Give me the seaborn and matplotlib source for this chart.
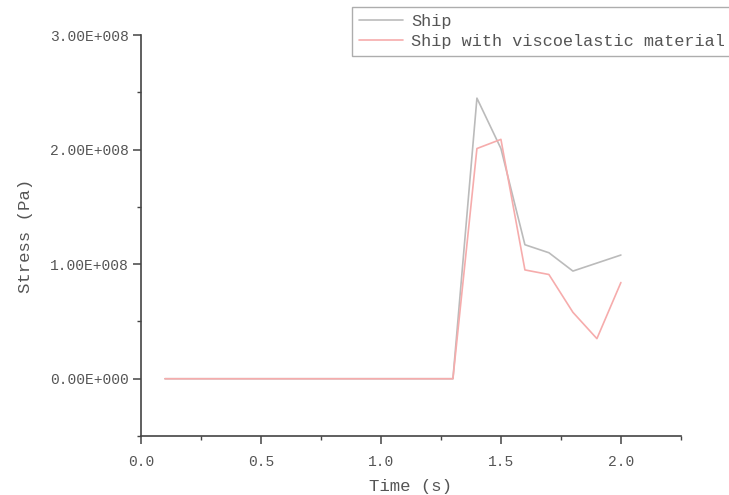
import pandas as pd
import matplotlib
matplotlib.use("Agg")
import matplotlib.pyplot as plt
import seaborn as sns
from matplotlib.ticker import MultipleLocator

# data
time_s = [0.1, 0.2, 0.3, 0.4, 0.5, 0.6, 0.7, 0.8, 0.9, 1.0,
          1.1, 1.2, 1.3, 1.4, 1.5, 1.6, 1.7, 1.8, 1.9, 2.0]
ship = [0, 0, 0, 0, 0, 0, 0, 0, 0, 0,
        0, 0, 0, 2.45e8, 2.01e8, 1.17e8, 1.10e8, 0.94e8, 1.01e8, 1.08e8]
ship_visco = [0, 0, 0, 0, 0, 0, 0, 0, 0, 0,
              0, 0, 0, 2.01e8, 2.09e8, 0.95e8, 0.91e8, 0.58e8, 0.35e8, 0.84e8]
series_names = ["Ship", "Ship with viscoelastic material"]

x_ticks = [0.0, 0.5, 1.0, 1.5, 2.0]
x_labels = ["0.0", "0.5", "1.0", "1.5", "2.0"]
y_ticks = [0, 1e8, 2e8, 3e8]
y_labels = ["0.00E+000", "1.00E+008", "2.00E+008", "3.00E+008"]

df = pd.DataFrame({
    "Time": time_s * 2,
    "Stress": ship + ship_visco,
    "Case": [series_names[0]] * len(time_s) + [series_names[1]] * len(time_s),
})

sns.set_style("ticks")
plt.rcParams["font.family"] = ["Liberation Mono", "DejaVu Sans"]

fig = plt.figure(figsize=(7.29, 4.95), dpi=100)
ax = fig.add_axes([0.1934, 0.1192, 0.934 - 0.1934, 0.929 - 0.1192])

sns.lineplot(data=df, x="Time", y="Stress", hue="Case",
             palette=["#bbbbbb", "#f6acac"], linewidth=1.2, ax=ax, legend=True)

ax.set_xlim(0, 2.25)
ax.set_ylim(-0.5e8, 3e8)
ax.set_xticks(x_ticks)
ax.set_xticklabels(x_labels)
ax.set_yticks(y_ticks)
ax.set_yticklabels(y_labels)
ax.xaxis.set_minor_locator(MultipleLocator(0.25))
ax.yaxis.set_minor_locator(MultipleLocator(0.5e8))

sns.despine(ax=ax)
for sp in ["left", "bottom"]:
    ax.spines[sp].set_color("#444444")
    ax.spines[sp].set_linewidth(1.2)
ax.tick_params(which="major", direction="out", length=6, width=1.1,
               color="#444444", labelsize=10.5, labelcolor="#555555")
ax.tick_params(axis="x", which="major", pad=8)
ax.tick_params(axis="y", which="major", pad=3)
ax.tick_params(which="minor", direction="out", length=3, width=1.0, color="#444444")

ax.set_xlabel("Time (s)", fontsize=12.5, color="#555555", labelpad=7)
ax.set_ylabel("Stress (Pa)", fontsize=12.5, color="#555555", labelpad=12)

leg = ax.legend(loc="upper left", bbox_to_anchor=(352 / 729, 1 - 7 / 495),
                bbox_transform=fig.transFigure, borderaxespad=0,
                fontsize=12.2, frameon=True, fancybox=False,
                handlelength=2.6, handletextpad=0.5, borderpad=0.4,
                labelspacing=0.3)
leg.get_frame().set_edgecolor("#999999")
leg.get_frame().set_linewidth(1.0)
for t in leg.get_texts():
    t.set_color("#555555")

fig.savefig("out.png", dpi=100)
